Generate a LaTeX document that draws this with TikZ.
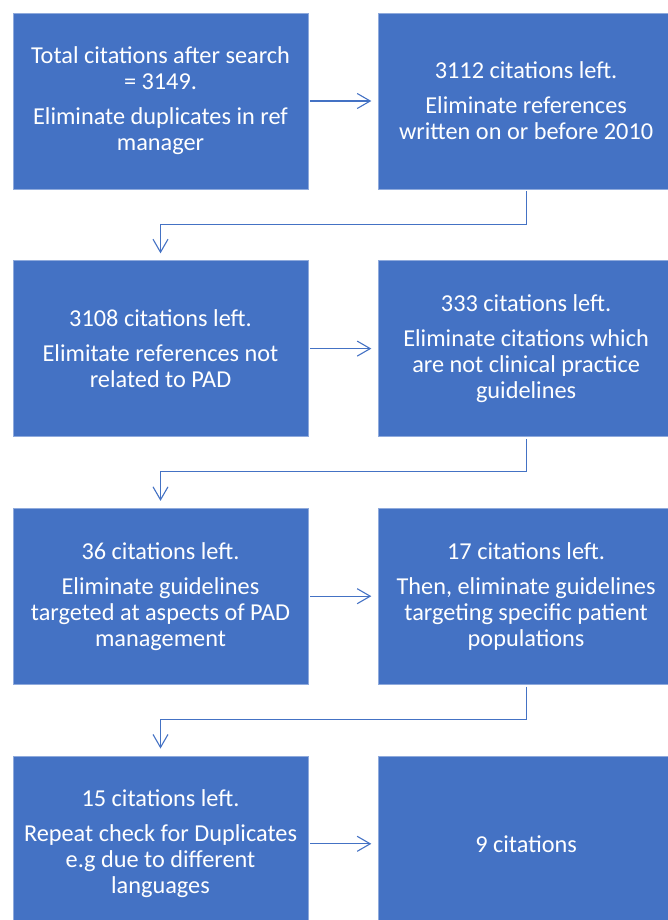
\documentclass[tikz,border=0pt]{standalone}
\usepackage{fontspec}
\setmainfont{Carlito}
\usetikzlibrary{positioning,arrows.meta}
\definecolor{boxblue}{HTML}{4472C4}
\definecolor{boxedge}{HTML}{8FAADC}

\begin{document}
\begin{tikzpicture}[x=1pt, y=-1pt,
  stage/.style ={draw=boxedge, line width=0.6pt, fill=boxblue, text=white,
                 minimum width=295pt, minimum height=176pt, inner sep=0pt,
                 align=center, font=\fontsize{24.3}{26}\selectfont},
  flow/.style  ={draw=boxblue, line width=1.1pt, shorten <=2pt, shorten >=7pt,
                 -{Straight Barb[length=13pt,width=15pt,line width=1.1pt]}},
  node distance=71pt and 70pt]

  \useasboundingbox (0,0) rectangle (667,920);

  % ---------------- row 1 ----------------
  \node[stage] (c3149) at (160.5,101)
    {Total citations after search\\= 3149.\\[9pt]Eliminate duplicates in ref\\manager};
  \node[stage, right=of c3149] (c3112)
    {3112 citations left.\\[9pt]Eliminate references\\written on or before 2010};

  % ---------------- row 2 ----------------
  \node[stage, below=of c3149] (c3108)
    {3108 citations left.\\[9pt]Elimitate references not\\related to PAD};
  \node[stage, right=of c3108] (c333)
    {333 citations left.\\[9pt]Eliminate citations which\\are not clinical practice\\guidelines};

  % ---------------- row 3 ----------------
  \node[stage, below=of c3108] (c36)
    {36 citations left.\\[9pt]Eliminate guidelines\\targeted at aspects of PAD\\management};
  \node[stage, right=of c36] (c17)
    {17 citations left.\\[9pt]Then, eliminate guidelines\\targeting specific patient\\populations};

  % ---------------- row 4 ----------------
  \node[stage, below=of c36] (c15)
    {15 citations left.\\[9pt]Repeat check for Duplicates\\e.g due to different\\languages};
  \node[stage, right=of c15] (c9) {9 citations};

  % ---------------- connectors ----------------
  \draw[flow] (c3149) -- (c3112);
  \draw[flow] (c3112.south) -- ++(0,35) -| (c3108.north);
  \draw[flow] (c3108) -- (c333);
  \draw[flow] (c333.south) -- ++(0,35) -| (c36.north);
  \draw[flow] (c36) -- (c17);
  \draw[flow] (c17.south) -- ++(0,35) -| (c15.north);
  \draw[flow] (c15) -- (c9);
\end{tikzpicture}
\end{document}
